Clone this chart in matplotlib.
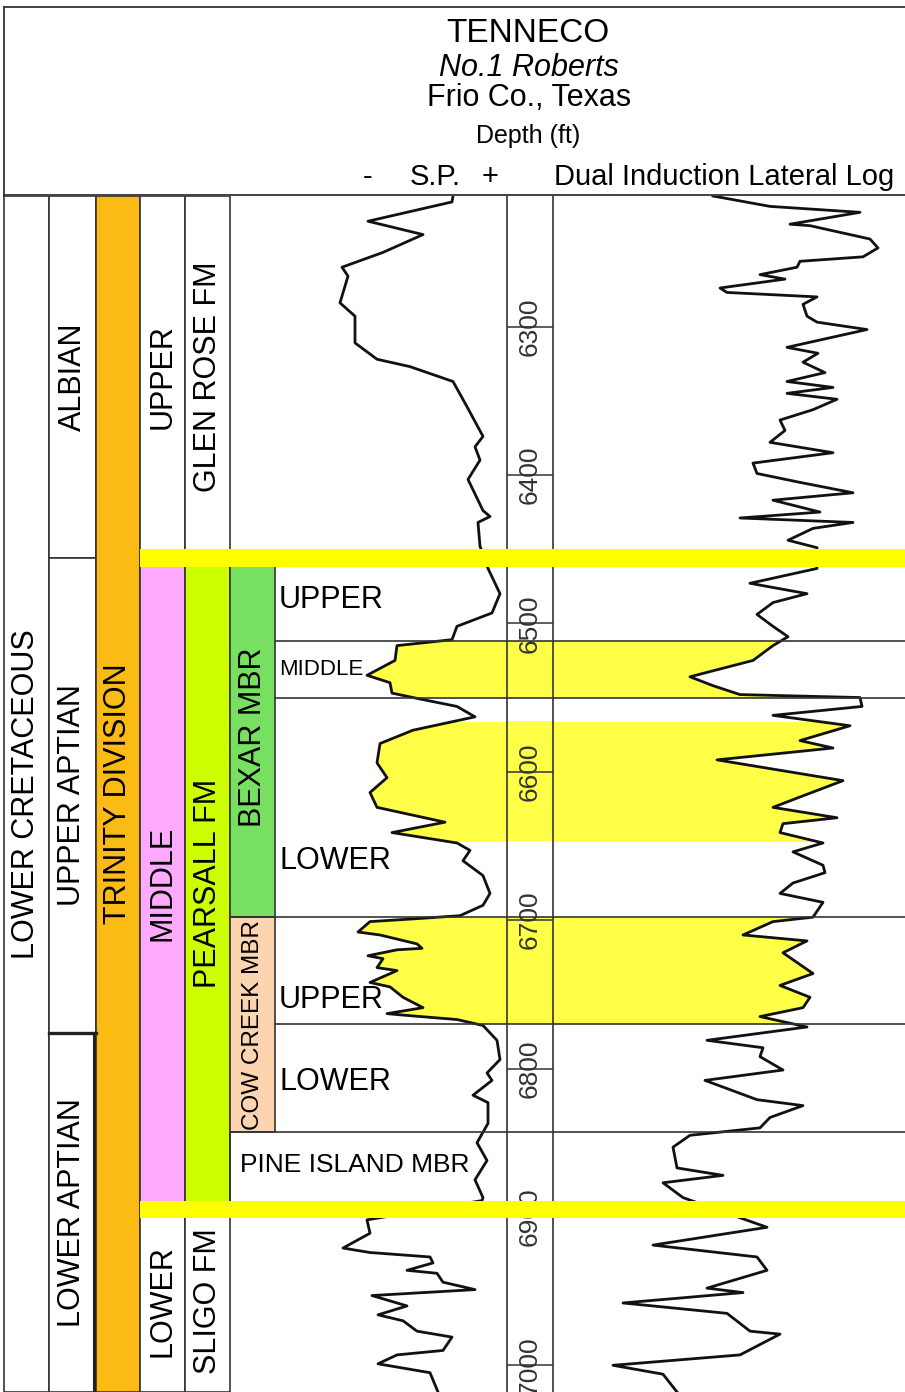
import numpy as np
import matplotlib.pyplot as plt
from matplotlib.patches import Rectangle

plt.rcParams['font.family'] = ['Liberation Sans', 'DejaVu Sans']

# ---- well log data (depth in ft, curve deflection in track units) ----
sp_depth = [6212, 6216, 6229, 6238, 6250, 6260, 6266, 6284, 6293, 6311, 6322, 6327, 6337, 6354,
            6374, 6381, 6390, 6403, 6424, 6428, 6432, 6448, 6463, 6480, 6493, 6502, 6511, 6515,
            6525, 6535, 6540, 6547, 6550, 6556, 6563, 6572, 6581, 6594, 6604, 6614, 6624, 6634,
            6641, 6648, 6653, 6660, 6670, 6682, 6690, 6697, 6699, 6701, 6708, 6710, 6716, 6719,
            6720, 6724, 6726, 6732, 6734, 6742, 6745, 6752, 6759, 6763, 6764, 6767, 6771, 6781,
            6794, 6803, 6808, 6818, 6823, 6837, 6850, 6862, 6875, 6887, 6889, 6902, 6911, 6921,
            6924, 6927, 6931, 6936, 6938, 6944, 6949, 6953, 6960, 6966, 6970, 6977, 6981, 6990,
            6993, 6999, 7005, 7018]
sp_value = [223, 222, 138, 193, 153, 112, 118, 110, 125, 125, 147, 180, 223, 237,
            253, 245, 250, 238, 253, 260, 248, 250, 258, 270, 262, 227, 222, 167,
            165, 137, 160, 162, 183, 227, 245, 183, 150, 147, 157, 140, 147, 215,
            162, 227, 240, 233, 253, 260, 253, 230, 187, 140, 128, 150, 187, 192,
            167, 138, 153, 147, 167, 140, 160, 173, 193, 157, 173, 227, 253, 267,
            270, 257, 262, 243, 258, 258, 247, 257, 245, 253, 252, 137, 140, 113,
            140, 200, 203, 177, 207, 213, 245, 142, 177, 148, 173, 187, 222, 213,
            167, 148, 200, 208]

res_depth = [6212, 6219, 6223, 6231, 6232, 6241, 6247, 6253, 6256, 6260, 6265, 6268, 6274, 6277,
             6280, 6285, 6293, 6297, 6302, 6314, 6318, 6324, 6331, 6337, 6341, 6345, 6349, 6356,
             6363, 6370, 6378, 6385, 6392, 6399, 6405, 6412, 6417, 6425, 6429, 6432, 6436, 6444,
             6449, 6463, 6473, 6480, 6486, 6494, 6502, 6509, 6515, 6525, 6536, 6542, 6548, 6550,
             6556, 6562, 6569, 6579, 6584, 6592, 6606, 6617, 6624, 6631, 6635, 6641, 6648, 6654,
             6663, 6668, 6675, 6682, 6688, 6698, 6701, 6710, 6714, 6722, 6736, 6744, 6752, 6759,
             6765, 6772, 6781, 6786, 6792, 6801, 6808, 6821, 6825, 6833, 6840, 6845, 6853, 6867,
             6872, 6877, 6887, 6907, 6919, 6927, 6936, 6948, 6951, 6958, 6965, 6977, 6979, 6993,
             7000, 7006, 7018]
res_value = [160, 217, 307, 237, 257, 317, 325, 310, 247, 244, 207, 232, 167, 174,
             264, 250, 254, 264, 314, 234, 265, 250, 272, 234, 280, 234, 284, 260,
             227, 232, 217, 280, 200, 204, 247, 300, 220, 267, 187, 300, 260, 235,
             264, 264, 197, 254, 220, 204, 220, 235, 220, 200, 137, 160, 187, 307,
             309, 220, 297, 247, 280, 164, 290, 247, 220, 284, 230, 227, 270, 240,
             270, 272, 240, 227, 270, 260, 220, 190, 254, 230, 260, 227, 257, 250,
             207, 254, 154, 210, 207, 230, 152, 204, 250, 217, 207, 137, 120, 124,
             170, 110, 130, 214, 100, 204, 214, 154, 190, 70, 174, 197, 227, 187,
             60, 110, 124]

depth_ticks = [6300, 6400, 6500, 6600, 6700, 6800, 6900, 7000]

# ---- stratigraphy (tops/bases in ft) ----
D_TOP, D_BOT = 6212, 7018
PEARSALL_TOP, SLIGO_TOP = 6456, 6895

system_names = ["LOWER CRETACEOUS"]
system_bounds = [D_TOP, D_BOT]
stage_names = ["ALBIAN", "UPPER APTIAN", "LOWER APTIAN"]
stage_bounds = [D_TOP, 6456, 6776, D_BOT]
group_names = ["TRINITY DIVISION"]
group_bounds = [D_TOP, D_BOT]
subgroup_names = ["UPPER", "MIDDLE", "LOWER"]
subgroup_bounds = [D_TOP, PEARSALL_TOP, SLIGO_TOP, D_BOT]
formation_names = ["GLEN ROSE FM", "PEARSALL FM", "SLIGO FM"]
formation_bounds = [D_TOP, PEARSALL_TOP, SLIGO_TOP, D_BOT]
member_names = ["BEXAR MBR", "COW CREEK MBR"]
member_bounds = [PEARSALL_TOP, 6698, 6843]
pine_island = [6843, SLIGO_TOP]
subunit_names = ["UPPER", "MIDDLE", "LOWER", "UPPER", "LOWER"]
subunit_bounds = [PEARSALL_TOP, 6512, 6550, 6698, 6770, 6843]
pay_zones = [(6512, 6550), (6566, 6647), (6698, 6770)]

# ---- colours ----
LINE = '#333333'
ORANGE = '#FCBA14'
PINK = '#FFAAFF'
LIME = '#CCFF00'
GREEN = '#78E060'
PEACH = '#FCD5B0'
BAND = '#FFFF00'
PAY = '#FFFF48'

W, H = 905, 1392
LOG_TOP = 196

fig = plt.figure(figsize=(W / 100, H / 100), dpi=100)


def px_axes(x0, y0, x1, y1):
    ax = fig.add_axes([x0 / W, 1 - y1 / H, (x1 - x0) / W, (y1 - y0) / H])
    ax.axis('off')
    return ax


# header panel in pixel units
frame = px_axes(0, 0, W, H)
frame.set_xlim(0, W)
frame.set_ylim(H, 0)
frame.plot([4, W], [7, 7], color=LINE, lw=1.3)
frame.plot([4, 4], [7, LOG_TOP], color=LINE, lw=1.3)
frame.plot([4, W], [195, 195], color=LINE, lw=1.3)
frame.text(528, 34, "TENNECO", fontsize=24, ha='center', va='center')
frame.text(529, 68, "No.1 Roberts", fontsize=22, style='italic', ha='center', va='center')
frame.text(529, 98, "Frio Co., Texas", fontsize=22, ha='center', va='center')
frame.text(528, 136, "Depth (ft)", fontsize=18, ha='center', va='center')
frame.text(368, 177, "-", fontsize=21, ha='center', va='center')
frame.text(435, 177, "S.P.", fontsize=21, ha='center', va='center')
frame.text(490, 177, "+", fontsize=21, ha='center', va='center')
frame.text(724, 177, "Dual Induction Lateral Log", fontsize=21, ha='center', va='center')

# log tracks
sp_ax = px_axes(230, LOG_TOP, 507, H)
sp_ax.set_xlim(0, 277)
dep_ax = px_axes(507, LOG_TOP, 553, H)
dep_ax.set_xlim(0, 1)
res_ax = px_axes(553, LOG_TOP, W, H)
res_ax.set_xlim(0, 352)
for ax in (sp_ax, dep_ax, res_ax):
    ax.set_ylim(D_BOT, D_TOP)

for top, base in pay_zones:
    dd = np.linspace(top, base, 300)
    sp_ax.fill_betweenx(dd, np.interp(dd, sp_depth, sp_value), 277, color=PAY, lw=0)
    dep_ax.axhspan(top, base, color=PAY, lw=0)
    res_ax.fill_betweenx(dd, 0, np.interp(dd, res_depth, res_value), color=PAY, lw=0)

sp_ax.plot(sp_value, sp_depth, color='#111111', lw=2.0, solid_joinstyle='round')
res_ax.plot(res_value, res_depth, color='#111111', lw=2.0, solid_joinstyle='round')

dep_ax.hlines(depth_ticks, 0, 1, color=LINE, lw=1.1)
for d in depth_ticks:
    dep_ax.text(0.5, d, str(d), rotation=90, fontsize=19, color='#333333',
                ha='center', va='center', clip_on=True)

# stratigraphic columns, drawn over the tracks
col = px_axes(0, LOG_TOP, W, H)
col.set_xlim(0, W)
col.set_ylim(D_BOT, D_TOP)


def unit_column(names, bounds, x0, x1, fills, sizes=None):
    for i, name in enumerate(names):
        top, base = bounds[i], bounds[i + 1]
        col.add_patch(Rectangle((x0, top), x1 - x0, base - top, facecolor=fills[i],
                                edgecolor=LINE, lw=1.2))
        col.text((x0 + x1) / 2, (top + base) / 2, name, rotation=90,
                 fontsize=sizes[i] if sizes else 22, ha='center', va='center')


unit_column(system_names, system_bounds, 4, 49, ['white'])
unit_column(stage_names, stage_bounds, 49, 96, ['white'] * 3)
unit_column(group_names, group_bounds, 96, 140, [ORANGE])
unit_column(subgroup_names, subgroup_bounds, 140, 185, ['white', PINK, 'white'])
unit_column(formation_names, formation_bounds, 185, 230, ['white', LIME, 'white'])
unit_column(member_names, member_bounds, 230, 275, [GREEN, PEACH], sizes=[22, 17.5])
col.plot([49, 96], [stage_bounds[2]] * 2, color='#222222', lw=2.4)
col.plot([94, 94], [stage_bounds[2], D_BOT], color='#222222', lw=2.2)

# sub-units of the members
sub_label_depth = [6484, 6531, 6660, 6754, 6809]
for name, d in zip(subunit_names, sub_label_depth):
    col.text(279, d, name, fontsize=16 if name == "MIDDLE" else 22, ha='left', va='center')
col.text(240, 6865, "PINE ISLAND MBR", fontsize=19, ha='left', va='center')

col.hlines(subunit_bounds[1:3] + [subunit_bounds[4]], 275, W, color=LINE, lw=1.2)
col.hlines([member_bounds[1], pine_island[0]], 230, W, color=LINE, lw=1.2)
col.vlines([507, 553], D_TOP, D_BOT, color=LINE, lw=1.2)
col.vlines([230], pine_island[0], pine_island[1], color=LINE, lw=1.2)

# yellow marker bands at the top and base of the Pearsall
for d in (PEARSALL_TOP, SLIGO_TOP):
    col.fill_between([140, W], d - 6, d + 6, color=BAND, lw=0, zorder=6)

fig.savefig('out.png', dpi=100)
